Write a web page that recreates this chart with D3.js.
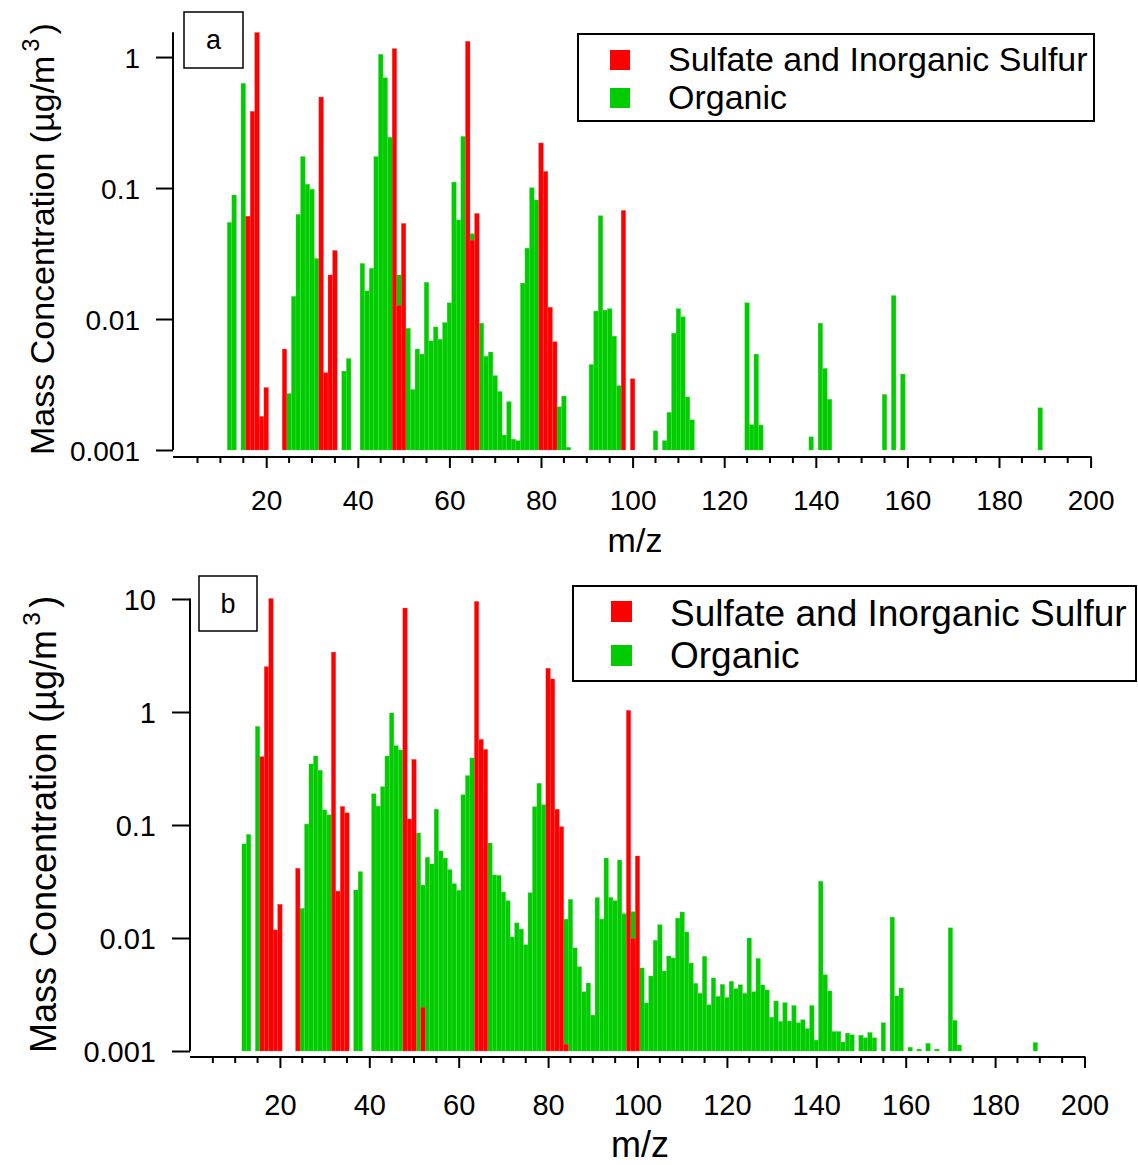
<!DOCTYPE html>
<html>
<head>
<meta charset="utf-8">
<script src="https://cdn.jsdelivr.net/npm/d3@7"></script>
<style>
  html, body { margin: 0; padding: 0; background: #fff; }
  svg { display: block; }
  text { font-family: "Liberation Sans", Arial, Helvetica, sans-serif; fill: #000; }
</style>
</head>
<body>
<svg id="chart" width="1138" height="1165"></svg>
<script>
// ---- Panel a: unit-mass spectrum, m/z and mass concentration (µg/m3) ----
const sulfateMzA = [16, 17, 18, 19, 20, 24, 32, 33, 34, 35, 48, 49, 50, 64, 65, 66, 80, 81, 82, 83, 98, 100];
const sulfateA   = [0.061, 0.385, 1.54, 0.0018, 0.0030, 0.0059, 0.495, 0.0039, 0.0217, 0.0334,
                    1.16, 0.0127, 0.0537, 1.32, 0.040, 0.064, 0.221, 0.134, 0.0123, 0.0067, 0.0675, 0.0035];

const organicMzA = [12, 13, 15, 25, 26, 27, 28, 29, 30, 31, 37, 38, 41, 42, 43, 44, 45, 46, 47, 49,
                    51, 52, 53, 54, 55, 56, 57, 58, 59, 60, 61, 62, 63, 65, 67, 68, 69, 70, 71, 72,
                    73, 74, 75, 76, 77, 78, 79, 84, 85, 86, 91, 92, 93, 94, 95, 96, 97,
                    105, 107, 108, 109, 110, 111, 112, 113, 125, 126, 127, 128,
                    139, 141, 142, 143, 155, 157, 159, 189];
const organicA   = [0.0547, 0.0885, 0.63, 0.0027, 0.0149, 0.063, 0.174, 0.107, 0.098, 0.029, 0.0040, 0.0050,
                    0.0266, 0.0164, 0.0244, 0.174, 1.05, 0.695, 0.244, 0.0217,
                    0.0085, 0.0029, 0.0059, 0.0054, 0.0191, 0.0068, 0.0087, 0.0070, 0.0094, 0.0133,
                    0.111, 0.057, 0.248, 0.0448, 0.0093, 0.0052, 0.0056, 0.0037, 0.0028, 0.0013,
                    0.00234, 0.00121, 0.00118, 0.0188, 0.0348, 0.1005, 0.081, 0.00214, 0.00258, 0.00105,
                    0.0045, 0.0115, 0.0615, 0.0117, 0.012, 0.0074, 0.0031,
                    0.0014, 0.00118, 0.00194, 0.0078, 0.012, 0.0104, 0.00254, 0.0017,
                    0.0133, 0.00156, 0.0054, 0.00155,
                    0.00126, 0.0093, 0.0042, 0.00244, 0.00266, 0.0151, 0.0038, 0.0021];

// ---- Panel b ----
const sulfateMzB = [16, 17, 18, 19, 20, 24, 32, 33, 34, 35, 48, 49, 50, 52, 64, 65, 66, 80, 81, 82, 83, 84, 98, 99, 100];
const sulfateB   = [0.403, 2.52, 10.1, 0.0118, 0.0199, 0.0414, 3.39, 0.026, 0.146, 0.128,
                    8.32, 0.113, 0.381, 0.00243, 9.53, 0.573, 0.467, 2.44, 1.96, 0.138, 0.0966, 0.00115,
                    1.035, 0.0099, 0.0532];

const organicMzB = [12, 13, 15, 25, 26, 27, 28, 29, 30, 31, 37, 38, 41, 42, 43, 44, 45, 46, 47,
                    51, 52, 53, 54, 55, 56, 57, 58, 59, 60, 61, 62, 63, 67, 68, 69, 70, 71, 72,
                    73, 74, 75, 76, 77, 78, 79, 84, 85, 86, 87, 88, 89, 90, 91, 92, 93, 94, 95, 96, 97, 99,
                    101, 102, 103, 104, 105, 106, 107, 108, 109, 110, 111, 112, 113, 114, 115, 116, 117, 118, 119, 120,
                    121, 122, 123, 124, 125, 126, 127, 128, 129, 130, 131, 132, 133, 134, 135, 136, 137, 138, 139, 140,
                    141, 142, 143, 144, 145, 146, 147, 148, 150, 151, 152, 153, 155, 157, 158, 159,
                    161, 163, 165, 167, 170, 171, 172, 189];
const organicB   = [0.068, 0.0826, 0.746, 0.0183, 0.102, 0.347, 0.408, 0.305, 0.136, 0.123, 0.0266, 0.0387,
                    0.189, 0.147, 0.218, 0.408, 0.98, 0.504, 0.461,
                    0.085, 0.0294, 0.0518, 0.0452, 0.138, 0.0589, 0.051, 0.0403, 0.0303, 0.0264,
                    0.185, 0.274, 0.392, 0.0693, 0.0361, 0.0358, 0.0255, 0.0214, 0.0102,
                    0.0136, 0.0120, 0.0087, 0.0252, 0.145, 0.234, 0.151, 0.0147, 0.0220, 0.00817,
                    0.00557, 0.00335, 0.0040, 0.00208, 0.0228, 0.0147, 0.051, 0.0229, 0.0214, 0.049, 0.0164, 0.0171,
                    0.00543, 0.00266, 0.00461, 0.00955, 0.0131, 0.0051, 0.00693, 0.00666, 0.0150, 0.0170,
                    0.0113, 0.0060, 0.00397, 0.00324, 0.00689, 0.00257, 0.00443, 0.00305, 0.00389, 0.00298,
                    0.00414, 0.00356, 0.00386, 0.00324, 0.0100, 0.00335, 0.00661, 0.00384, 0.00347, 0.00199,
                    0.00277, 0.00183, 0.00268, 0.00184, 0.00253, 0.00178, 0.00189, 0.00158, 0.00253, 0.00125,
                    0.0318, 0.00473, 0.0034, 0.00149, 0.00149, 0.0012, 0.00144, 0.00139,
                    0.00138, 0.00131, 0.00146, 0.00131, 0.00178, 0.0153, 0.00307, 0.00361,
                    0.00108, 0.00104, 0.00117, 0.00104, 0.0123, 0.00187, 0.00113, 0.00119];

// Axis ticks and labels
const yTicksA = [0.001, 0.01, 0.1, 1];
const yTickLabelsA = ["0.001", "0.01", "0.1", "1"];
const yTicksB = [0.001, 0.01, 0.1, 1, 10];
const yTickLabelsB = ["0.001", "0.01", "0.1", "1", "10"];
const xMajorTicks = [20, 40, 60, 80, 100, 120, 140, 160, 180, 200];
const legendLabels = ["Sulfate and Inorganic Sulfur", "Organic"];
const panelNames = ["a", "b"];

const RED = "#ff0000";
const GREEN = "#00cc00";

const svg = d3.select("#chart");
svg.append("rect").attr("width", 1138).attr("height", 1165).attr("fill", "#fff");

function zip(mz, vals) { return mz.map((m, i) => ({ mz: m, v: vals[i] })); }

function drawPanel(p) {
  const g = svg.append("g");
  const x = d3.scaleLinear().domain([0, 200]).range([p.x0, p.x1]);
  const y = d3.scaleLog().domain([0.001, p.yMax]).range([p.yBottom, p.yTop]);

  // bars: organic first, sulfate on top
  const series = [
    { data: zip(p.orgMz, p.orgV), color: GREEN, seam: "#55dd55" },
    { data: zip(p.sulMz, p.sulV), color: RED, seam: "#ff5a5a" }
  ];
  series.forEach(s => {
    g.append("g").selectAll("rect").data(s.data).join("rect")
      .attr("x", d => x(d.mz - 0.5))
      .attr("width", d => x(d.mz + 0.5) - x(d.mz - 0.5))
      .attr("y", d => y(d.v))
      .attr("height", d => y(0.001) - y(d.v))
      .attr("fill", s.color)
      .attr("stroke", s.seam)
      .attr("stroke-width", 0.3);
  });

  // left axis
  const yAxis = d3.axisLeft(y).tickValues(p.yTicks)
    .tickFormat((d, i) => p.yTickLabels[i])
    .tickSize(p.yTickLen).tickPadding(p.yTickPad);
  const ya = g.append("g").attr("transform", `translate(${p.yAxisX},0)`).call(yAxis);
  ya.select(".domain").remove();
  ya.append("line").attr("x1", 0).attr("x2", 0).attr("y1", p.yTop).attr("y2", p.yBottom)
    .attr("stroke", "#000").attr("stroke-width", 2);
  ya.selectAll(".tick line").attr("stroke", "#000").attr("stroke-width", 2);
  ya.selectAll(".tick text").style("font-size", p.tickFont + "px")
    .style("font-family", '"Liberation Sans", Arial, sans-serif').attr("fill", "#000").attr("dy", "0.36em");

  // bottom axis: minor ticks every 5, labelled majors every 20
  const minor = d3.range(5, 201, 5).filter(v => v % 20 !== 0);
  const xa = g.append("g").attr("transform", `translate(0,${p.xAxisY})`);
  xa.append("line").attr("x1", p.yAxisX).attr("x2", x(200) + 1)
    .attr("stroke", "#000").attr("stroke-width", 2);
  xa.selectAll("line.minor").data(minor).join("line").attr("class", "minor")
    .attr("x1", d => x(d)).attr("x2", d => x(d)).attr("y1", 0).attr("y2", p.minorLen)
    .attr("stroke", "#000").attr("stroke-width", 2);
  const xAxis = d3.axisBottom(x).tickValues(xMajorTicks).tickFormat(d3.format("d"))
    .tickSize(p.majorLen).tickPadding(p.xTickPad);
  const xg = xa.append("g").call(xAxis);
  xg.select(".domain").remove();
  xg.selectAll(".tick line").attr("stroke", "#000").attr("stroke-width", 2);
  xg.selectAll(".tick text").style("font-size", p.tickFont + "px")
    .style("font-family", '"Liberation Sans", Arial, sans-serif').attr("fill", "#000");

  // axis titles
  g.append("text").attr("x", p.xTitleX).attr("y", p.xTitleY).attr("text-anchor", "middle")
    .style("font-size", p.titleFont + "px").text("m/z");
  const yt = g.append("text")
    .attr("transform", `translate(${p.yTitleX},${p.yTitleY}) rotate(-90)`)
    .attr("text-anchor", "start")
    .style("font-size", p.titleFont + "px");
  yt.append("tspan").text("Mass Concentration (µg/m");
  yt.append("tspan").attr("dx", p.titleFont * 0.12).attr("dy", -p.titleFont * 0.45)
    .style("font-size", (p.titleFont * 0.68) + "px").text("3");
  yt.append("tspan").attr("dx", p.titleFont * 0.12).attr("dy", p.titleFont * 0.45).text(")");

  // panel letter box
  g.append("rect").attr("x", p.tagX).attr("y", p.tagY).attr("width", p.tagW).attr("height", p.tagH)
    .attr("fill", "#fff").attr("stroke", "#000").attr("stroke-width", 1.5);
  g.append("text").attr("x", p.tagX + p.tagW / 2).attr("y", p.tagY + p.tagH / 2)
    .attr("dy", "0.35em").attr("text-anchor", "middle")
    .style("font-size", p.tagFont + "px").text(p.name);

  // legend
  g.append("rect").attr("x", p.legX).attr("y", p.legY).attr("width", p.legW).attr("height", p.legH)
    .attr("fill", "#fff").attr("stroke", "#000").attr("stroke-width", 2);
  [RED, GREEN].forEach((c, i) => {
    g.append("rect").attr("x", p.legX + p.swX).attr("y", p.legY + p.swY[i])
      .attr("width", p.swS).attr("height", p.swS).attr("fill", c);
    g.append("text").attr("x", p.legX + p.txX).attr("y", p.legY + p.txY[i])
      .style("font-size", p.legFont + "px").text(legendLabels[i]);
  });
}

drawPanel({
  name: panelNames[0],
  sulMz: sulfateMzA, sulV: sulfateA, orgMz: organicMzA, orgV: organicA,
  yTicks: yTicksA, yTickLabels: yTickLabelsA,
  x0: 174.6, x1: 1090.6, yMax: 1.545, yTop: 32.3, yBottom: 450,
  yAxisX: 173, yTickLen: 17, yTickPad: 16, xAxisY: 457, minorLen: 6, majorLen: 11, xTickPad: 22,
  tickFont: 28, titleFont: 34,
  xTitleX: 635, xTitleY: 552, yTitleX: 54, yTitleY: 455,
  tagX: 184, tagY: 12, tagW: 59, tagH: 56, tagFont: 27,
  legX: 578, legY: 34, legW: 516, legH: 87, swX: 32, swY: [16, 54], swS: 20,
  txX: 90, txY: [37, 75], legFont: 34
});

drawPanel({
  name: panelNames[1],
  sulMz: sulfateMzB, sulV: sulfateB, orgMz: organicMzB, orgV: organicB,
  yTicks: yTicksB, yTickLabels: yTickLabelsB,
  x0: 190.5, x1: 1084.5, yMax: 10.1, yTop: 598.5, yBottom: 1051,
  yAxisX: 190, yTickLen: 18, yTickPad: 16, xAxisY: 1057, minorLen: 6, majorLen: 11, xTickPad: 26,
  tickFont: 29, titleFont: 36,
  xTitleX: 640, xTitleY: 1157, yTitleX: 56, yTitleY: 1053,
  tagX: 199, tagY: 576, tagW: 58, tagH: 55, tagFont: 27,
  legX: 573, legY: 586, legW: 563, legH: 95, swX: 38, swY: [15, 59], swS: 21,
  txX: 97, txY: [40, 82], legFont: 37
});
</script>
</body>
</html>
